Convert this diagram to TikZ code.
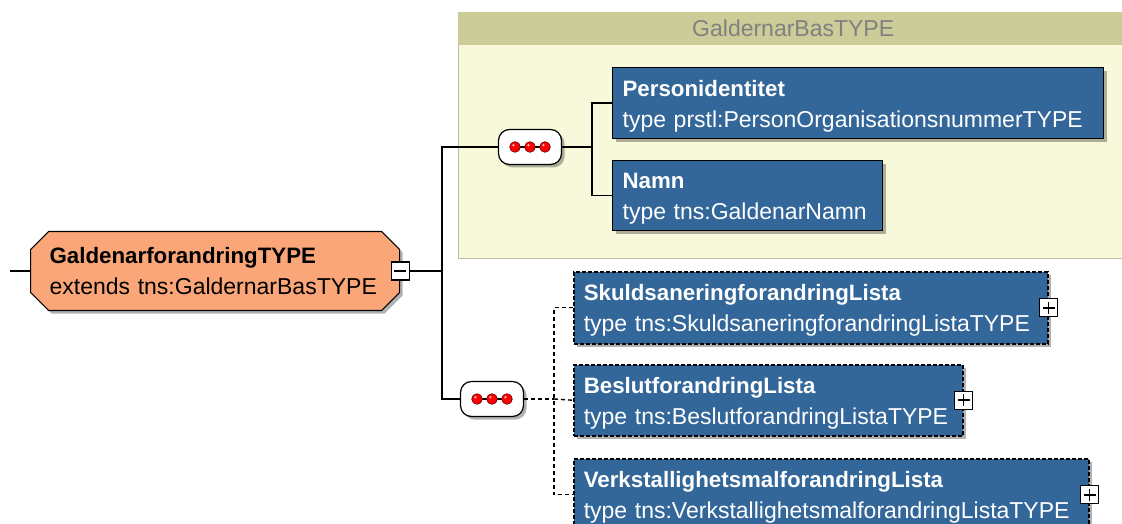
\documentclass[tikz,border=0pt]{standalone}
\usepackage{fontspec}
\setmainfont{Liberation Sans}
\usetikzlibrary{shapes.misc,shadows,calc}

\definecolor{elemblue}{RGB}{51,102,153}
\definecolor{rootorange}{RGB}{250,166,120}
\definecolor{grphead}{RGB}{204,204,153}
\definecolor{grpbody}{RGB}{248,248,218}
\definecolor{grpline}{RGB}{190,190,145}

\newcommand\nm[1]{{\fontsize{22.3}{31}\selectfont\bfseries\rule{0pt}{22pt}#1}}

\tikzset{
  shade/.style={drop shadow={shadow xshift=3pt,shadow yshift=-3pt,opacity=0.3,fill=black}},
  txt/.style={font=\fontsize{23}{31}\selectfont},
  elem/.style={txt,draw=black,line width=1.2pt,fill=elemblue,text=white,anchor=north west,
    align=left,inner xsep=10pt,inner ysep=0pt,shade},
  optelem/.style={elem,line width=1.5pt,dash pattern=on 4pt off 2pt},
  seq/.style={draw=black,line width=1.2pt,fill=white,rounded corners=11pt,
    minimum width=63pt,minimum height=35pt,inner sep=0pt,shade},
  togglebox/.style={draw=black,line width=1.2pt,fill=white,minimum size=18pt,inner sep=0pt},
  minusbox/.style={togglebox,path picture={
    \draw[line width=1.6pt] ([xshift=3pt]path picture bounding box.west) -- ([xshift=-3pt]path picture bounding box.east);}},
  plusbox/.style={togglebox,path picture={
    \draw[line width=1.6pt] ([xshift=3pt]path picture bounding box.west) -- ([xshift=-3pt]path picture bounding box.east);
    \draw[line width=1.6pt] ([yshift=-3pt]path picture bounding box.north) -- ([yshift=3pt]path picture bounding box.south);}},
  link/.style={line width=1.2pt},
  optlink/.style={link,line width=1.4pt,dash pattern=on 4pt off 3pt}
}

% three red dots of a sequence compositor
\newcommand\seqdots[1]{%
  \draw[line width=1.2pt] ($(#1.center)+(-15,0)$) -- ($(#1.center)+(15,0)$);
  \foreach \dx in {-15,0,15}{
    \draw[draw=red!45!black,line width=0.7pt,fill=red] ($(#1.center)+(\dx,0)$) circle (5.3pt);
    \fill[white,opacity=0.7] ($(#1.center)+(\dx-1.6,-1.8)$) circle (1.3pt);}}

\begin{document}
\begin{tikzpicture}[x=1pt,y=-1pt]
\clip (0,0) rectangle (1122,524);
\fill[white] (0,0) rectangle (1122,524);

% group GaldernarBasTYPE
\node[draw=grpline,line width=1.2pt,fill=grpbody,anchor=north west,minimum width=670pt,minimum height=246pt] (grp) at (458,12) {};
\node[fill=grphead,anchor=north west,minimum width=670pt,minimum height=33pt,text=black!50,txt] (grphd) at (grp.north west) {GaldernarBasTYPE};

% root type
\node[txt,chamfered rectangle,chamfered rectangle xsep=9pt,chamfered rectangle ysep=9pt,
  draw=black,line width=1.2pt,fill=rootorange,anchor=west,align=left,
  text width=331pt,inner xsep=10pt,inner ysep=0pt,minimum height=79pt,shade] (root) at (30,271)
  {{\fontsize{22.3}{31}\selectfont\bfseries GaldenarforandringTYPE}\\extends~tns:GaldernarBasTYPE};
\node[minusbox] (rootmin) at (root.east) {};
\coordinate (in) at (10,271);

% compositors
\node[seq] (seqA) at (530,147) {};
\node[seq] (seqB) at (492,399) {};
\seqdots{seqA}
\seqdots{seqB}
\coordinate (j) at (442,271);
\coordinate (bA) at (592,147);
\coordinate (bB) at (554,399);

% elements
\node[elem,text width=471pt,minimum height=71pt] (pers) at (612,67)
  {\nm{Personidentitet}\\type~prstl:PersonOrganisationsnummerTYPE};
\node[elem,text width=250pt,minimum height=70pt] (namn) at (612,160)
  {\nm{Namn}\\type~tns:GaldenarNamn};
\node[optelem,text width=454pt,minimum height=72pt] (skuld) at (573,271)
  {\nm{SkuldsaneringforandringLista}\\type~tns:SkuldsaneringforandringListaTYPE};
\node[optelem,text width=369pt,minimum height=71pt] (beslut) at (573,364)
  {\nm{BeslutforandringLista}\\type~tns:BeslutforandringListaTYPE};
\node[optelem,text width=495pt,minimum height=72pt] (verk) at (573,458)
  {\nm{VerkstallighetsmalforandringLista}\\type~tns:VerkstallighetsmalforandringListaTYPE};
\node[plusbox] (skuldpl) at (skuld.east) {};
\node[plusbox] (beslutpl) at (beslut.east) {};
\node[plusbox] (verkpl) at (verk.east) {};

% connectors
\draw[link] (in) -- (root.west);
\draw[link] (rootmin.east) -- (j);
\draw[link] (seqA.west) -| (j) |- (seqB.west);
\draw[link] (seqA.east) -- (bA);
\draw[link] (pers.west) -| (bA) |- (namn.west);
\draw[optlink] (seqB.east) -- (bB);
\draw[optlink] (skuld.west) -| (bB) |- (verk.west);
\draw[optlink] (bB) -- (beslut.west);
\end{tikzpicture}
\end{document}
